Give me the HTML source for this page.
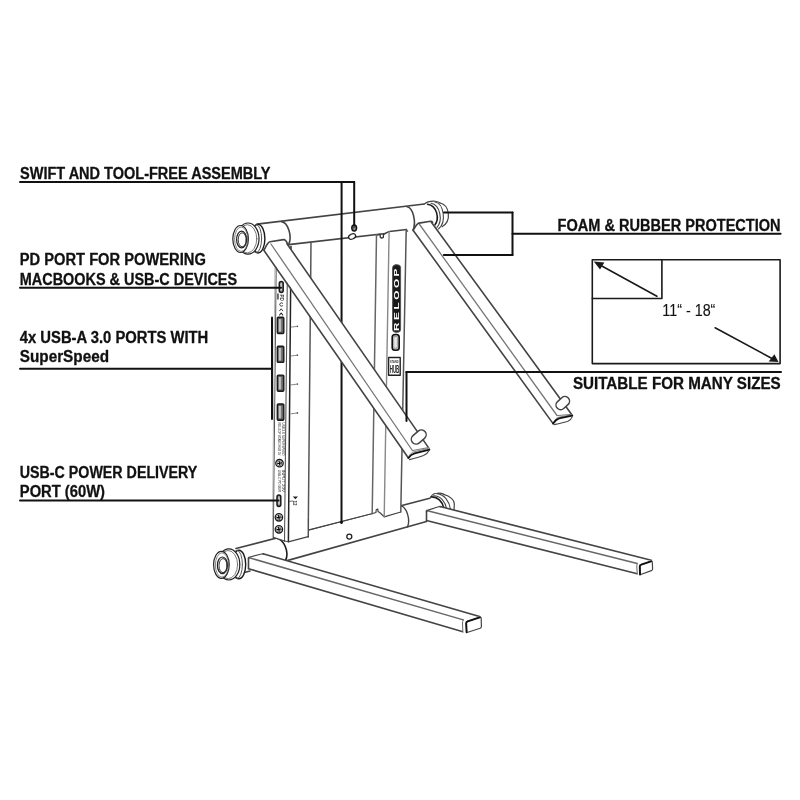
<!DOCTYPE html>
<html><head><meta charset="utf-8"><style>
html,body{margin:0;padding:0;background:#fff;width:800px;height:800px;overflow:hidden}
svg{display:block;will-change:transform}
text{font-family:"Liberation Sans",sans-serif}
</style></head><body>
<svg width="800" height="800" viewBox="0 0 800 800" stroke-linecap="round" stroke-linejoin="round">
<rect width="800" height="800" fill="#fff"/>
<path d="M236.00,548.49 L430.70,498.06 L428.00,522.00 L287.50,560.50 L250.00,571.00 L242.50,573.00 Z" fill="#fff" stroke="none"/>
<line x1="236.00" y1="548.49" x2="430.70" y2="498.06" stroke="#444" stroke-width="1.6"/>
<line x1="285.30" y1="561.12" x2="426.50" y2="521.58" stroke="#444" stroke-width="1.6"/>
<line x1="242.50" y1="573.00" x2="250.00" y2="571.00" stroke="#444" stroke-width="1.6"/>
<path d="M276.3,538.25 C283.5,539 290,552 285.3,561.12" stroke="#1a1a1a" stroke-width="1.6" fill="none" />
<path d="M400.9,505.6 C407,507.5 410.5,520 407.5,526.90" stroke="#444" stroke-width="1.4" fill="none" />
<circle cx="349.3" cy="536.6" r="2.5" fill="#fff" stroke="#222" stroke-width="1.3"/>
<path d="M430.7,497.1 C432,494 435,493 437,493.2 C440,493 442.5,493.5 444,494.3 C450,496 454.7,500 454.3,504 L453.8,510.5 L431,512 Z" fill="#fff" stroke="none"/>
<path d="M430.7,497.2 C432,494.5 434.5,493.2 437,493.2 C440,493 442.5,493.5 444,494.3" stroke="#444" stroke-width="1.1" fill="none" />
<path d="M431.2,496.9 C437.5,496.5 442.5,501.5 443.8,508" stroke="#1a1a1a" stroke-width="1.6" fill="none" />
<path d="M433.5,495.8 C440.5,495.6 445.5,502 446.5,508.8" stroke="#444" stroke-width="1.1" fill="none" />
<path d="M436.9,493.6 C444.5,494.5 449.5,501.5 450.5,509.3" stroke="#444" stroke-width="1.1" fill="none" />
<path d="M443.6,494.4 C450,496 454.7,500 454.3,504.5 L454,509.8" stroke="#444" stroke-width="1.2" fill="none" />
<path d="M289.00,244.59 L406.50,231.08 L400.80,512.00 L384.20,517.00 L372.50,513.14 L308.00,529.84 L289.00,540.76 Z" fill="#fff" stroke="none"/>
<line x1="308.20" y1="530.09" x2="372.50" y2="513.54" stroke="#444" stroke-width="1.2"/>
<path d="M372.5,513.54 L376,512.53 L376.2,509.73 L377.8,508.96 L378,511.41 L380,512.79 L384.2,516.8 L400.8,512" stroke="#444" stroke-width="1.2" fill="none" />
<rect x="392.6" y="264.8" width="8" height="67.5" rx="3" fill="#1a1a1a" stroke="#555" stroke-width="1"/>
<text x="0" y="0" transform="translate(399.4,331) rotate(-90) scale(1.55,1)" font-size="7.6" font-weight="bold" fill="#fff" textLength="40.3" lengthAdjust="spacing">RELOOP</text>
<rect x="392.2" y="334.5" width="7" height="15.8" rx="2.8" fill="#bbb" stroke="#111" stroke-width="1.6"/>
<rect x="393.8" y="336.5" width="3.6" height="11.5" rx="1.5" fill="#e8e8e8" stroke="#888" stroke-width="0.6"/>
<rect x="388.6" y="357.5" width="11.6" height="17.8" fill="#fff" stroke="#222" stroke-width="1.4"/>
<text x="390" y="362.6" font-size="3.6" font-weight="bold" fill="#333" textLength="8.6" lengthAdjust="spacingAndGlyphs">STAND</text>
<text x="389.7" y="373.4" font-size="11.5" font-weight="bold" fill="#222" textLength="9.6" lengthAdjust="spacingAndGlyphs">HUB</text>
<path d="M257.00,224.12 L428.50,203.54 L433.00,226.50 L413.00,231.00 L288.60,244.64 L264.00,249.00 Z" fill="#fff" stroke="none"/>
<line x1="257.00" y1="224.12" x2="428.50" y2="203.54" stroke="#444" stroke-width="1.6"/>
<line x1="288.60" y1="244.64" x2="407.50" y2="230.97" stroke="#444" stroke-width="1.6"/>
<path d="M281.5,221.6 C288,222.5 292.5,236 288.6,244.6" stroke="#444" stroke-width="1.6" fill="none" />
<path d="M407.25,206.8 C413,208 416.5,222 413,230.4" stroke="#444" stroke-width="1.6" fill="none" />
<path d="M384,234.6 C386,233.6 387.5,231.9 389.5,231.6 L406.6,229.4 L406.6,236 L384,238 Z" fill="#fff" stroke="none"/>
<path d="M376.5,234.9 L380,234.5 M383.6,234.3 C385.8,233.7 387.4,231.9 389.5,231.6 L406.6,229.4" stroke="#444" stroke-width="1.5" fill="none" />
<path d="M380.1,234.4 L380.3,237.3 Q381.7,238.6 383.3,237.4 L383.5,234.3" stroke="#333" stroke-width="1.3" fill="none" />
<line x1="311.00" y1="242.06" x2="308.20" y2="537.00" stroke="#555" stroke-width="1.5"/>
<line x1="376.50" y1="234.73" x2="372.20" y2="513.72" stroke="#666" stroke-width="1.5"/>
<line x1="389.10" y1="231.80" x2="384.20" y2="516.80" stroke="#888" stroke-width="1.4"/>
<line x1="406.20" y1="229.60" x2="400.80" y2="512.00" stroke="#555" stroke-width="1.5"/>
<ellipse cx="354.2" cy="228" rx="2.5" ry="3.1" fill="#555" stroke="#111" stroke-width="1.2"/>
<ellipse cx="354.4" cy="228.9" rx="0.9" ry="0.7" fill="#ccc"/>
<ellipse cx="352.1" cy="236.5" rx="3.7" ry="2.5" transform="rotate(-25 352.1 236.5)" fill="#fff" stroke="#222" stroke-width="1.3"/>
<path d="M424,204.3 C427,201 432,200.8 436,201.2 C443,202 449.5,208 448.5,215.5 C448,222 444,226.5 440,228 L434,229.5 L431,221 Z" fill="#fff" stroke="none"/>
<path d="M424,204.3 C427,201.5 431,201 435,201.2 C437.5,201.5 439,202 440,203" stroke="#444" stroke-width="1.1" fill="none" />
<path d="M427.5,204.2 C437,205.5 440,219 434.5,225.5" stroke="#1a1a1a" stroke-width="1.6" fill="none" />
<path d="M431,203.2 C440,204.5 443.5,221 436.5,228" stroke="#444" stroke-width="1.1" fill="none" />
<path d="M435,202 C443.5,203 447,222 438.5,229" stroke="#444" stroke-width="1.1" fill="none" />
<path d="M440,203 C449.5,205 452,221 442,226.8" stroke="#444" stroke-width="1.2" fill="none" />
<line x1="341.60" y1="181.90" x2="341.50" y2="522.50" stroke="#111" stroke-width="2.0"/>
<circle cx="341.5" cy="522.6" r="1.4" fill="#111"/>
<path d="M288.50,520.00 L308.20,520.00 L308.20,536.60 L288.40,541.80 Z" fill="#fff" stroke="none"/>
<line x1="288.40" y1="541.80" x2="308.20" y2="536.60" stroke="#444" stroke-width="1.2"/>
<line x1="308.20" y1="520.00" x2="308.20" y2="536.60" stroke="#444" stroke-width="1.2"/>
<path d="M276.20,266.00 L291.00,250.00 L288.40,541.50 L284.50,541.00 L273.30,537.30 Z" fill="#fff" stroke="none"/>
<line x1="276.20" y1="267.00" x2="273.30" y2="537.30" stroke="#555" stroke-width="1.0"/>
<line x1="274.90" y1="268.00" x2="272.40" y2="537.00" stroke="#aaa" stroke-width="0.8"/>
<line x1="287.50" y1="262.00" x2="284.50" y2="541.00" stroke="#555" stroke-width="1.1"/>
<line x1="291.00" y1="246.50" x2="288.40" y2="541.50" stroke="#222" stroke-width="1.5"/>
<line x1="273.30" y1="537.30" x2="284.50" y2="541.00" stroke="#444" stroke-width="1.1"/>
<line x1="284.50" y1="541.00" x2="288.40" y2="541.70" stroke="#444" stroke-width="1.1"/>
<rect x="279.3" y="281.4" width="3.9" height="11" rx="1.9" fill="#999" stroke="#1a1a1a" stroke-width="1.5"/>
<rect x="280.7" y="283.5" width="1.1" height="6.8" fill="#ddd"/>
<rect x="277.2" y="293.5" width="1.5" height="6" fill="#444"/>
<text x="0" y="0" transform="translate(280.3,294.6) rotate(90)" font-size="4.6" font-weight="bold" fill="#333" textLength="6.3" lengthAdjust="spacingAndGlyphs">PD</text>
<path d="M282.6,303.2 A1.7,1.7 0 1 0 282.6,305.8" stroke="#333" stroke-width="1.0" fill="none" />
<path d="M279.6,310.8 L281.2,308.8 L282.8,310.8" stroke="#333" stroke-width="1.0" fill="none" />
<path d="M279.6,315 L281.2,313 L282.8,315" stroke="#222" stroke-width="1.1" fill="none" />
<rect x="277.3" y="317.3" width="6.5" height="16.2" rx="1" fill="#555" stroke="#1a1a1a" stroke-width="1.4"/>
<rect x="278.7" y="319.1" width="2.2" height="12.6" fill="#c8c8c8"/>
<rect x="281" y="319.1" width="1.6" height="12.6" fill="#777"/>
<path d="M291,327.10 L296,326.50" stroke="#555" stroke-width="0.7" fill="none" />
<circle cx="297.3" cy="326.30" r="0.9" fill="#555"/>
<rect x="277.3" y="346.2" width="6.5" height="16.2" rx="1" fill="#555" stroke="#1a1a1a" stroke-width="1.4"/>
<rect x="278.7" y="348.0" width="2.2" height="12.6" fill="#c8c8c8"/>
<rect x="281" y="348.0" width="1.6" height="12.6" fill="#777"/>
<path d="M291,356.00 L296,355.40" stroke="#555" stroke-width="0.7" fill="none" />
<circle cx="297.3" cy="355.20" r="0.9" fill="#555"/>
<rect x="277.3" y="375.1" width="6.5" height="16.2" rx="1" fill="#555" stroke="#1a1a1a" stroke-width="1.4"/>
<rect x="278.7" y="376.90000000000003" width="2.2" height="12.6" fill="#c8c8c8"/>
<rect x="281" y="376.90000000000003" width="1.6" height="12.6" fill="#777"/>
<path d="M291,384.90 L296,384.30" stroke="#555" stroke-width="0.7" fill="none" />
<circle cx="297.3" cy="384.10" r="0.9" fill="#555"/>
<rect x="277.3" y="404.0" width="6.5" height="16.2" rx="1" fill="#555" stroke="#1a1a1a" stroke-width="1.4"/>
<rect x="278.7" y="405.8" width="2.2" height="12.6" fill="#c8c8c8"/>
<rect x="281" y="405.8" width="1.6" height="12.6" fill="#777"/>
<path d="M291,413.80 L296,413.20" stroke="#555" stroke-width="0.7" fill="none" />
<circle cx="297.3" cy="413.00" r="0.9" fill="#555"/>
<text x="0" y="0" transform="translate(278.4,422.5) rotate(90)" font-size="3.6" fill="#222" textLength="33" lengthAdjust="spacingAndGlyphs">RELOOP STAND HUB 5V</text>
<text x="0" y="0" transform="translate(281.6,422.5) rotate(90)" font-size="3.6" fill="#222" textLength="33" lengthAdjust="spacingAndGlyphs">USB 3.0 SUPERSPEED</text>
<text x="0" y="0" transform="translate(278.2,469.8) rotate(90)" font-size="3.6" fill="#222" textLength="22" lengthAdjust="spacingAndGlyphs">USB-C PD 60W</text>
<text x="0" y="0" transform="translate(281.5,469.8) rotate(90)" font-size="3.6" fill="#222" textLength="22" lengthAdjust="spacingAndGlyphs">INPUT 20V</text>
<circle cx="279.5" cy="463.2" r="3.7" fill="#fff" stroke="#1a1a1a" stroke-width="1.3"/><circle cx="279.5" cy="463.2" r="2.50" fill="none" stroke="#666" stroke-width="0.8"/><path d="M277.8,463.5 L281.2,462.9 M279.2,461.5 L279.8,464.9" stroke="#000" stroke-width="1.2"/>
<circle cx="278.9" cy="517.3" r="3.7" fill="#fff" stroke="#1a1a1a" stroke-width="1.3"/><circle cx="278.9" cy="517.3" r="2.50" fill="none" stroke="#666" stroke-width="0.8"/><path d="M277.2,517.5999999999999 L280.59999999999997,517.0 M278.59999999999997,515.5999999999999 L279.2,519.0" stroke="#000" stroke-width="1.2"/>
<circle cx="278.9" cy="529.3" r="3.7" fill="#fff" stroke="#1a1a1a" stroke-width="1.3"/><circle cx="278.9" cy="529.3" r="2.50" fill="none" stroke="#666" stroke-width="0.8"/><path d="M277.2,529.5999999999999 L280.59999999999997,529.0 M278.59999999999997,527.5999999999999 L279.2,531.0" stroke="#000" stroke-width="1.2"/>
<rect x="277" y="495" width="3.8" height="11.4" rx="1.9" fill="#999" stroke="#1a1a1a" stroke-width="1.5"/>
<rect x="278.4" y="497.2" width="1.1" height="7" fill="#ddd"/>
<path d="M292.8,496.6 L298,496.6 L295.4,499.3 Z" fill="#222"/>
<path d="M289.5,501.3 L292.6,501.1" stroke="#444" stroke-width="0.8" fill="none" />
<text x="0" y="0" transform="translate(293.2,500.4) rotate(90)" font-size="4.8" font-weight="bold" fill="#333" textLength="5" lengthAdjust="spacingAndGlyphs">12</text>
<path d="M264.40,249.40 L269.40,241.90 L283.75,239.70 L286.90,243.10 L430.00,449.00 L408.87,459.00 Z" fill="#fff" stroke="none"/>
<line x1="287.13" y1="244.00" x2="429.20" y2="448.60" stroke="#444" stroke-width="1.6"/>
<line x1="270.95" y1="244.00" x2="412.40" y2="450.50" stroke="#777" stroke-width="1.3"/>
<line x1="263.66" y1="250.00" x2="408.40" y2="458.00" stroke="#444" stroke-width="1.6"/>
<path d="M264.4,249.4 C266,246 267.5,242.5 270,241.8 L283.5,239.6 C285.5,239.5 286.6,241.5 287.3,243.6" stroke="#444" stroke-width="1.6" fill="none" />
<path d="M408,458 L412,450.3 L429.3,447.6 L429.6,450.5 L428.5,452 L423.5,456 L410,460.5 Z" fill="#fff" stroke="none"/>
<path d="M412.3,450.6 L428.2,447.6" stroke="#666" stroke-width="0.9" fill="none" />
<path d="M408.8,456.2 C410.3,453.8 411.8,452.4 414,451.8 L428.4,448.4" stroke="#777" stroke-width="0.9" fill="none" />
<path d="M408.4,458 C410,455.6 412,454.2 414.6,453.4 L429.4,449.6" stroke="#111" stroke-width="1.9" fill="none" />
<path d="M409.5,459.6 C414,458.6 420,457 423.5,455.6 C426,454.4 428,452.8 429.2,450.2" stroke="#444" stroke-width="1.1" fill="none" />
<rect x="410.5" y="432.2" width="16.5" height="9.6" rx="4.8" transform="rotate(-41 418.75 437)" fill="#fff" stroke="#444" stroke-width="1.5"/>
<line x1="406.50" y1="372.10" x2="406.50" y2="421.00" stroke="#111" stroke-width="2.0"/>
<path d="M413.20,230.30 L418.60,223.30 L431.75,221.00 L571.04,415.00 L552.89,423.00 Z" fill="#fff" stroke="none"/>
<line x1="413.63" y1="231.00" x2="553.10" y2="423.60" stroke="#444" stroke-width="1.6"/>
<line x1="419.60" y1="224.50" x2="557.00" y2="415.50" stroke="#777" stroke-width="1.3"/>
<line x1="431.21" y1="222.00" x2="572.20" y2="415.20" stroke="#444" stroke-width="1.6"/>
<path d="M413.2,230.4 C414.5,228 416.5,224 419,223.1 L430.5,221.3 C431.5,221.2 432.2,221.6 432.6,222.3" stroke="#444" stroke-width="1.6" fill="none" />
<path d="M552.5,424.5 L557,415.3 L572.3,414.3 L572.5,416.5 L567.5,421.8 L554,425.5 Z" fill="#fff" stroke="none"/>
<path d="M557,415.6 L571.5,414.4" stroke="#666" stroke-width="0.9" fill="none" />
<path d="M554,421.5 C555.5,419 556.5,417.8 558.5,417.2 L571.2,414.9" stroke="#777" stroke-width="0.9" fill="none" />
<path d="M553.1,423.6 C554.8,421 556.5,419.2 559,418.4 L572.3,415.6" stroke="#111" stroke-width="1.9" fill="none" />
<path d="M554,424.6 C558,423.8 564,422.6 567.5,421.5 C569.8,420.6 571.5,418.8 572.3,416.6" stroke="#444" stroke-width="1.1" fill="none" />
<rect x="555.25" y="398.5" width="15" height="9.2" rx="4.6" transform="rotate(-42 562.75 403.1)" fill="#fff" stroke="#444" stroke-width="1.5"/>
<path d="M248.50,557.50 L263.00,553.75 L480.60,616.90 L481.90,629.40 L465.00,632.50 L248.50,568.75 Z" fill="#fff" stroke="none"/>
<line x1="248.50" y1="557.50" x2="463.30" y2="619.90" stroke="#666" stroke-width="1.5"/>
<line x1="263.00" y1="553.75" x2="479.50" y2="616.60" stroke="#444" stroke-width="1.6"/>
<line x1="248.50" y1="568.75" x2="462.90" y2="631.70" stroke="#444" stroke-width="1.6"/>
<path d="M248.5,559 C248.2,557.8 249,557.3 250,557 L261.5,554 C262.5,553.7 263.2,553.9 263.5,554.2" stroke="#444" stroke-width="1.2" fill="none" />
<line x1="248.50" y1="558.50" x2="248.50" y2="568.50" stroke="#444" stroke-width="1.6"/>
<path d="M463.3,619.9 L479.5,616.6 L481.5,617.5 L481.6,628 L466.5,632.8 L462.9,631.9 Z" fill="#fff" stroke="none"/>
<path d="M463.3,619.9 Q462.3,621.5 462.5,624 L462.9,631.7" stroke="#666" stroke-width="1.0" fill="none" />
<path d="M466.6,632.2 L466.2,623.4 Q466.1,621.9 467.6,621.4 L479.8,617.3 Q481.2,616.9 481.2,618.4 L481.4,626.6 Q481.4,627.9 480.2,628.3 L467.8,632.2 Q466.6,632.5 466.6,631.5" stroke="#444" stroke-width="1.2" fill="none" />
<path d="M466.6,632.2 L466.2,623.4 Q466.1,621.9 467.6,621.4 L479.8,617.3" stroke="#111" stroke-width="1.9" fill="none" />
<path d="M426.50,510.50 L440.00,506.50 L652.50,560.60 L652.50,570.60 L638.75,574.40 L426.50,520.50 Z" fill="#fff" stroke="none"/>
<line x1="426.50" y1="510.50" x2="637.25" y2="563.60" stroke="#666" stroke-width="1.5"/>
<line x1="440.00" y1="506.50" x2="651.25" y2="560.30" stroke="#444" stroke-width="1.6"/>
<line x1="426.50" y1="520.50" x2="637.25" y2="573.80" stroke="#444" stroke-width="1.6"/>
<path d="M426.5,512 C426.3,511 427,510.4 428,510.1 L438.5,506.8 C439.5,506.5 440.2,506.6 440.5,506.9" stroke="#444" stroke-width="1.2" fill="none" />
<line x1="426.50" y1="511.50" x2="426.50" y2="520.20" stroke="#444" stroke-width="1.6"/>
<path d="M637.25,563.6 L651.25,560.3 L653,561 L653,570.5 L640,575 L637.25,574 Z" fill="#fff" stroke="none"/>
<path d="M637.25,563.6 Q636.7,565 636.8,567 L637.25,573.8" stroke="#666" stroke-width="1.0" fill="none" />
<path d="M640,574.6 L639.8,566.4 Q639.8,565 641.2,564.6 L651,561.3 Q652.3,560.9 652.3,562.3 L652.6,569 Q652.6,570.2 651.4,570.6 L641.4,574.3 Q640,574.8 640,573.8" stroke="#444" stroke-width="1.2" fill="none" />
<path d="M640,574.6 L639.8,566.4 Q639.8,565 641.2,564.6 L651,561.3" stroke="#111" stroke-width="1.9" fill="none" />
<ellipse cx="258.00" cy="238.70" rx="6.9" ry="14.3" fill="#fff" stroke="#1a1a1a" stroke-width="1.4"/><ellipse cx="256.20" cy="238.60" rx="5.4" ry="14.1" fill="none" stroke="#555" stroke-width="1.0"/><ellipse cx="248.00" cy="238.60" rx="11" ry="15.6" fill="#fff" stroke="#222" stroke-width="1.2"/><ellipse cx="247.30" cy="238.80" rx="9.5" ry="14.1" fill="none" stroke="#555" stroke-width="0.8"/><ellipse cx="240.60" cy="239.00" rx="7.8" ry="13.5" fill="#fff" stroke="#222" stroke-width="1.2"/><ellipse cx="241.20" cy="239.20" rx="6.6" ry="12.2" fill="none" stroke="#666" stroke-width="0.8"/><ellipse cx="241.60" cy="239.50" rx="5" ry="8.3" fill="#fff" stroke="#222" stroke-width="1.2"/><ellipse cx="242.20" cy="239.80" rx="4" ry="7" fill="none" stroke="#333" stroke-width="1"/>
<ellipse cx="238.80" cy="564.50" rx="6.9" ry="14.3" fill="#fff" stroke="#1a1a1a" stroke-width="1.4"/><ellipse cx="237.00" cy="564.40" rx="5.4" ry="14.1" fill="none" stroke="#555" stroke-width="1.0"/><ellipse cx="228.80" cy="564.40" rx="11" ry="15.6" fill="#fff" stroke="#222" stroke-width="1.2"/><ellipse cx="228.10" cy="564.60" rx="9.5" ry="14.1" fill="none" stroke="#555" stroke-width="0.8"/><ellipse cx="221.40" cy="564.80" rx="7.8" ry="13.5" fill="#fff" stroke="#222" stroke-width="1.2"/><ellipse cx="222.00" cy="565.00" rx="6.6" ry="12.2" fill="none" stroke="#666" stroke-width="0.8"/><ellipse cx="222.40" cy="565.30" rx="5" ry="8.3" fill="#fff" stroke="#222" stroke-width="1.2"/><ellipse cx="223.00" cy="565.60" rx="4" ry="7" fill="none" stroke="#333" stroke-width="1"/>
<line x1="20.00" y1="181.90" x2="354.20" y2="181.90" stroke="#111" stroke-width="2.0"/>
<line x1="354.20" y1="181.90" x2="354.20" y2="225.20" stroke="#111" stroke-width="2.0"/>
<line x1="20.00" y1="287.80" x2="281.00" y2="287.80" stroke="#111" stroke-width="2.0"/>
<line x1="20.00" y1="368.80" x2="272.00" y2="368.80" stroke="#111" stroke-width="2.0"/>
<line x1="272.00" y1="317.50" x2="272.00" y2="419.00" stroke="#111" stroke-width="2.0"/>
<line x1="20.00" y1="500.50" x2="278.50" y2="500.50" stroke="#111" stroke-width="2.0"/>
<line x1="512.50" y1="233.80" x2="780.60" y2="233.80" stroke="#111" stroke-width="2.0"/>
<line x1="512.50" y1="212.50" x2="512.50" y2="255.00" stroke="#111" stroke-width="2.0"/>
<line x1="444.00" y1="212.60" x2="512.50" y2="212.60" stroke="#111" stroke-width="2.0"/>
<line x1="443.80" y1="255.00" x2="512.50" y2="255.00" stroke="#111" stroke-width="2.0"/>
<line x1="406.30" y1="372.10" x2="781.00" y2="372.10" stroke="#111" stroke-width="2.0"/>
<rect x="592.3" y="259.8" width="187.8" height="103.8" fill="none" stroke="#1a1a1a" stroke-width="1.6"/>
<path d="M592.3,298.5 L661.9,298.5 L661.9,259.8" fill="none" stroke="#1a1a1a" stroke-width="1.6"/>
<line x1="656.90" y1="296.30" x2="600.00" y2="265.00" stroke="#1a1a1a" stroke-width="1.6"/>
<path d="M593.8,261.5 L604.4,262.6 L600,269.4 Z" fill="#1a1a1a"/>
<line x1="715.10" y1="327.80" x2="772.00" y2="358.50" stroke="#1a1a1a" stroke-width="1.6"/>
<path d="M778.5,362 L768.7,361.4 L774.4,354.3 Z" fill="#1a1a1a"/>
<text x="20" y="178.7" font-size="16" font-weight="bold" textLength="250.5" lengthAdjust="spacingAndGlyphs" fill="#111" stroke="#111" stroke-width="0.3">SWIFT AND TOOL-FREE ASSEMBLY</text>
<text x="19.8" y="264.9" font-size="16" font-weight="bold" textLength="186" lengthAdjust="spacingAndGlyphs" fill="#111" stroke="#111" stroke-width="0.3">PD PORT FOR POWERING</text>
<text x="19.8" y="285.0" font-size="16" font-weight="bold" textLength="217.3" lengthAdjust="spacingAndGlyphs" fill="#111" stroke="#111" stroke-width="0.3">MACBOOKS &amp; USB-C DEVICES</text>
<text x="19.8" y="342.5" font-size="16" font-weight="bold" textLength="188.5" lengthAdjust="spacingAndGlyphs" fill="#111" stroke="#111" stroke-width="0.3">4x USB-A 3.0 PORTS WITH</text>
<text x="19.8" y="362.1" font-size="16" font-weight="bold" textLength="89.2" lengthAdjust="spacingAndGlyphs" fill="#111" stroke="#111" stroke-width="0.3">SuperSpeed</text>
<text x="19.8" y="477.5" font-size="16" font-weight="bold" textLength="177.5" lengthAdjust="spacingAndGlyphs" fill="#111" stroke="#111" stroke-width="0.3">USB-C POWER DELIVERY</text>
<text x="19.8" y="496.9" font-size="16" font-weight="bold" textLength="85.2" lengthAdjust="spacingAndGlyphs" fill="#111" stroke="#111" stroke-width="0.3">PORT (60W)</text>
<text x="557.5" y="230.8" font-size="16" font-weight="bold" textLength="223.1" lengthAdjust="spacingAndGlyphs" fill="#111" stroke="#111" stroke-width="0.3">FOAM &amp; RUBBER PROTECTION</text>
<text x="572.9" y="389.2" font-size="16" font-weight="bold" textLength="207.8" lengthAdjust="spacingAndGlyphs" fill="#111" stroke="#111" stroke-width="0.3">SUITABLE FOR MANY SIZES</text>
<text x="662.3" y="316.2" font-size="15.8" font-weight="normal" textLength="53.1" lengthAdjust="spacingAndGlyphs" fill="#111" stroke="#111" stroke-width="0.1">11“ - 18“</text>
</svg>
</body></html>
